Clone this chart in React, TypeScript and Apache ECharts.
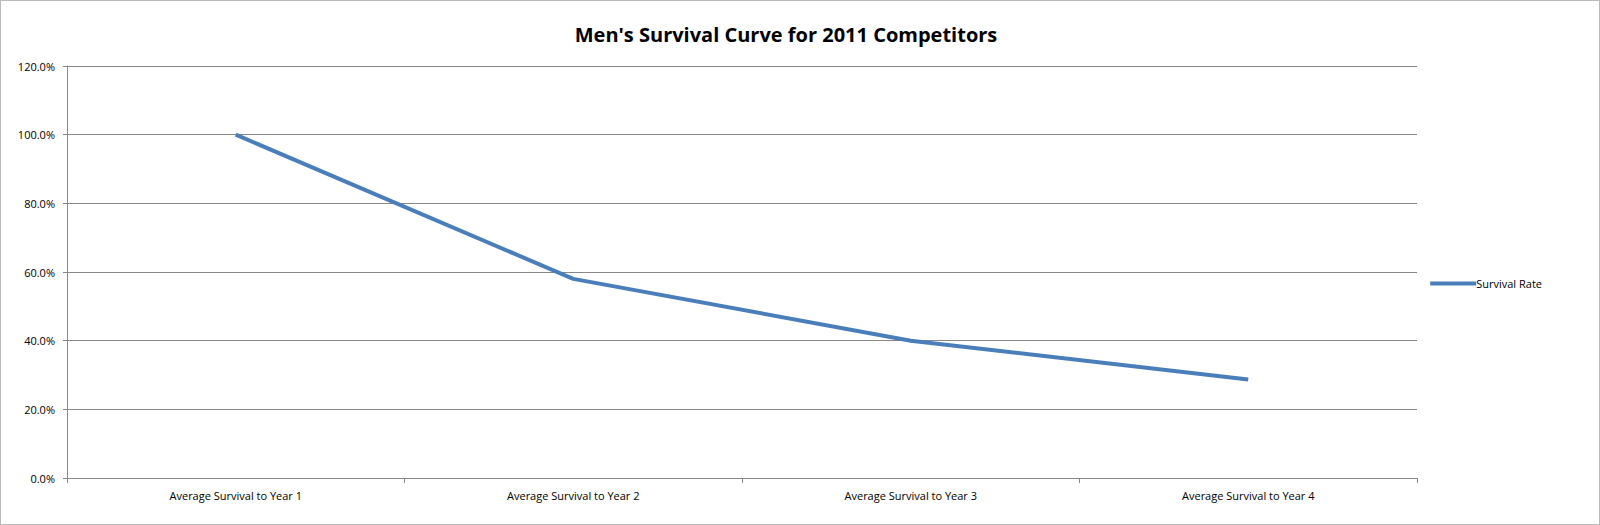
import React, { useEffect, useRef } from "react";
import * as echarts from "echarts";

const categories = [
  "Average Survival to Year 1",
  "Average Survival to Year 2",
  "Average Survival to Year 3",
  "Average Survival to Year 4",
];
const survivalRate = [100.0, 58.0, 40.0, 28.7];
const seriesName = "Survival Rate";
const titleText = "Men's Survival Curve for 2011 Competitors";

export default function App() {
  const ref = useRef<HTMLDivElement>(null);
  useEffect(() => {
    const chart = echarts.init(ref.current!, null, { renderer: "svg" });
    const font = "'Open Sans', 'Liberation Sans', sans-serif";
    chart.setOption({
      animation: false,
      backgroundColor: "#fff",
      title: {
        text: titleText,
        left: 780,
        textAlign: "center",
        top: 18,
        textStyle: { fontFamily: font, fontSize: 20, fontWeight: "bold", color: "#000" },
      },
      legend: {
        right: 52,
        top: 272,
        itemWidth: 46,
        itemHeight: 4,
        itemGap: 0,
        icon: "rect",
        textStyle: { fontFamily: font, fontSize: 11, color: "#000", padding: [0, 0, 0, -5] },
        data: [seriesName],
      },
      grid: { left: 66, right: 182, top: 65, bottom: 46, containLabel: false },
      xAxis: {
        type: "category",
        data: categories,
        boundaryGap: true,
        axisLine: { lineStyle: { color: "#888" } },
        axisTick: { show: true, length: 5, lineStyle: { color: "#888" } },
        axisLabel: { fontFamily: font, fontSize: 11, color: "#000", margin: 12 },
      },
      yAxis: {
        type: "value",
        min: 0,
        max: 120,
        interval: 20,
        axisLine: { show: true, lineStyle: { color: "#888" } },
        axisTick: { show: true, length: 4, lineStyle: { color: "#888" } },
        splitLine: { lineStyle: { color: "#888" } },
        axisLabel: {
          fontFamily: font,
          fontSize: 11,
          color: "#000",
          margin: 12,
          formatter: (v: number) => v.toFixed(1) + "%",
        },
      },
      series: [
        {
          name: seriesName,
          type: "line",
          data: survivalRate,
          showSymbol: false,
          symbol: "none",
          lineStyle: { color: "#4a7ebb", width: 4 },
          itemStyle: { color: "#4a7ebb" },
        },
      ],
    });
    return () => chart.dispose();
  }, []);
  return (
    <div
      ref={ref}
      style={{
        position: "fixed",
        left: 0,
        top: 0,
        width: 1600,
        height: 525,
        boxSizing: "border-box",
        border: "1px solid #bbb",
      }}
    />
  );
}
